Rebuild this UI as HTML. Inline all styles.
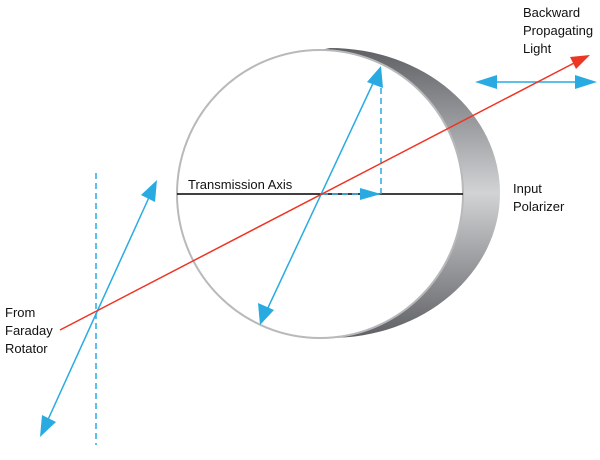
<!DOCTYPE html>
<html><head><style>body{margin:0;background:#fff}svg{display:block}text{font-family:"Liberation Sans",sans-serif;font-size:13px;fill:#111}</style></head><body>
<svg width="600" height="460" viewBox="0 0 600 460">
<defs>
<linearGradient id="g" x1="0" y1="0" x2="0" y2="1">
<stop offset="0" stop-color="#5f6064"/><stop offset="0.5" stop-color="#d2d3d5"/><stop offset="1" stop-color="#5f6064"/>
</linearGradient>
</defs>
<path d="M330,48 A170,145 0 0 1 330,338 L320,338 A143,144 0 0 0 320,50 Z" fill="url(#g)"/>
<ellipse cx="320" cy="194" rx="143" ry="144" fill="#fff" stroke="#b8b9bb" stroke-width="2"/>
<line x1="177" y1="194" x2="463" y2="194" stroke="#000" stroke-width="1.5"/>
<g stroke="#29abe2" stroke-width="1.5" fill="none">
<line x1="381" y1="78" x2="381" y2="194" stroke-dasharray="6,4"/>
<line x1="322" y1="194" x2="365" y2="194" stroke-dasharray="6,4"/>
<line x1="96" y1="173" x2="96" y2="445" stroke-dasharray="6,4"/>
<line x1="266" y1="312" x2="375" y2="79"/>
<line x1="46" y1="424" x2="151" y2="193"/>
<line x1="490" y1="82" x2="583" y2="82"/>
</g>
<g fill="#29abe2">
<polygon points="381,66 383,88 367,82"/>
<polygon points="260,325 258,303 274,310"/>
<polygon points="381,194 360,188 360,200"/>
<polygon points="157,180 155,202 141,195"/>
<polygon points="40,437 42,415 56,422"/>
<polygon points="475,82 497,75 497,89"/>
<polygon points="597,82 575,75 575,89"/>
</g>
<line x1="60" y1="330" x2="578" y2="61" stroke="#ee3524" stroke-width="1.5"/>
<polygon points="590,55 570,57 576,69" fill="#ee3524"/>
<text x="188" y="189">Transmission Axis</text>
<text x="513" y="193">Input</text><text x="513" y="211">Polarizer</text>
<text x="523" y="17">Backward</text><text x="523" y="35">Propagating</text><text x="523" y="53">Light</text>
<text x="5" y="317">From</text><text x="5" y="335">Faraday</text><text x="5" y="353">Rotator</text>
</svg>
</body></html>
